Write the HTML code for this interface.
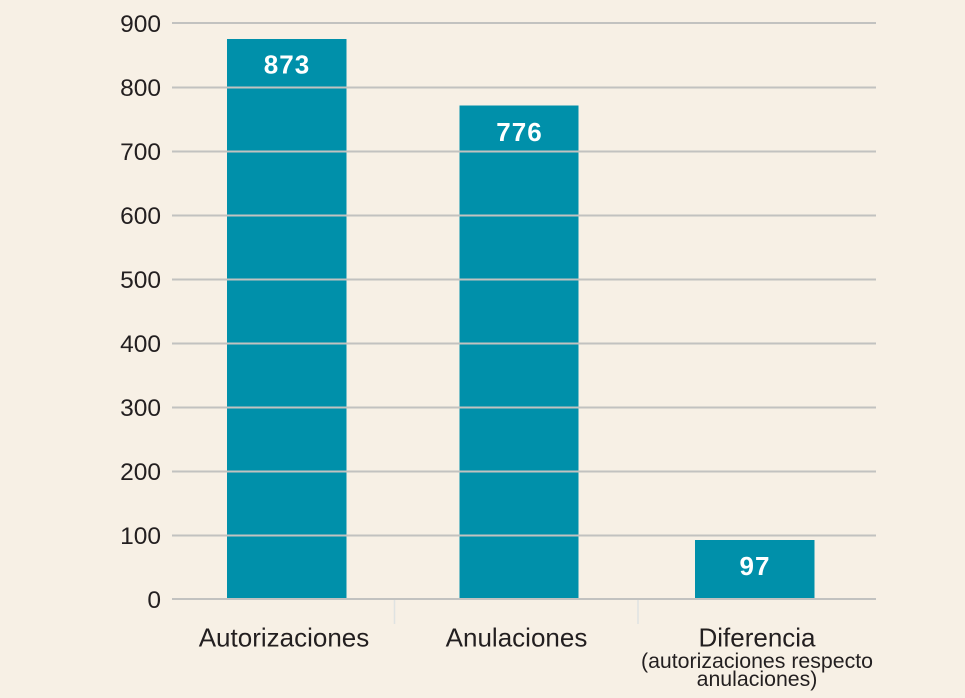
<!DOCTYPE html>
<html>
<head>
<meta charset="utf-8">
<style>
  html, body { margin:0; padding:0; }
  body { width:965px; height:698px; background:#f7f0e5; overflow:hidden; }
  svg { display:block; }
  text { font-family: "Liberation Sans", sans-serif; fill:#231f20; }
</style>
</head>
<body>
<svg width="965" height="698" viewBox="0 0 965 698" xmlns="http://www.w3.org/2000/svg">
  <rect x="0" y="0" width="965" height="698" fill="#f7f0e5"/>
  <!-- bars -->
  <rect x="227" y="39" width="119.5" height="560" fill="#0090aa"/>
  <rect x="459.5" y="105.5" width="119" height="493.5" fill="#0090aa"/>
  <rect x="695" y="540" width="119.5" height="59" fill="#0090aa"/>
  <!-- gridlines -->
  <g stroke="#c2c2c0" stroke-width="2">
    <line x1="172" y1="23" x2="876" y2="23"/>
    <line x1="172" y1="87.5" x2="876" y2="87.5"/>
    <line x1="172" y1="151.5" x2="876" y2="151.5"/>
    <line x1="172" y1="215.5" x2="876" y2="215.5"/>
    <line x1="172" y1="279.5" x2="876" y2="279.5"/>
    <line x1="172" y1="343.5" x2="876" y2="343.5"/>
    <line x1="172" y1="407.5" x2="876" y2="407.5"/>
    <line x1="172" y1="471.5" x2="876" y2="471.5"/>
    <line x1="172" y1="535.5" x2="876" y2="535.5"/>
    <line x1="172" y1="599" x2="876" y2="599"/>
  </g>
  <!-- category separators -->
  <g stroke="#dfe3e2" stroke-width="1.5">
    <line x1="394.5" y1="600" x2="394.5" y2="624"/>
    <line x1="638" y1="600" x2="638" y2="624"/>
  </g>
  <!-- y tick labels -->
  <g font-size="24.5" text-anchor="end">
    <text x="161" y="32">900</text>
    <text x="161" y="96">800</text>
    <text x="161" y="160">700</text>
    <text x="161" y="224">600</text>
    <text x="161" y="288">500</text>
    <text x="161" y="352">400</text>
    <text x="161" y="416">300</text>
    <text x="161" y="480">200</text>
    <text x="161" y="544">100</text>
    <text x="161" y="608">0</text>
  </g>
  <!-- value labels -->
  <g font-size="26" font-weight="bold" text-anchor="middle" letter-spacing="1">
    <text x="287" y="73.5" style="fill:#ffffff">873</text>
    <text x="519.5" y="141" style="fill:#ffffff">776</text>
    <text x="755" y="575" style="fill:#ffffff">97</text>
  </g>
  <!-- category labels -->
  <g text-anchor="middle">
    <text x="284" y="646.5" font-size="26">Autorizaciones</text>
    <text x="516.5" y="646.5" font-size="26">Anulaciones</text>
    <text x="757" y="646.5" font-size="26">Diferencia</text>
    <text x="757" y="668" font-size="21.3">(autorizaciones respecto</text>
    <text x="757" y="686" font-size="21.3">anulaciones)</text>
  </g>
</svg>
</body>
</html>
